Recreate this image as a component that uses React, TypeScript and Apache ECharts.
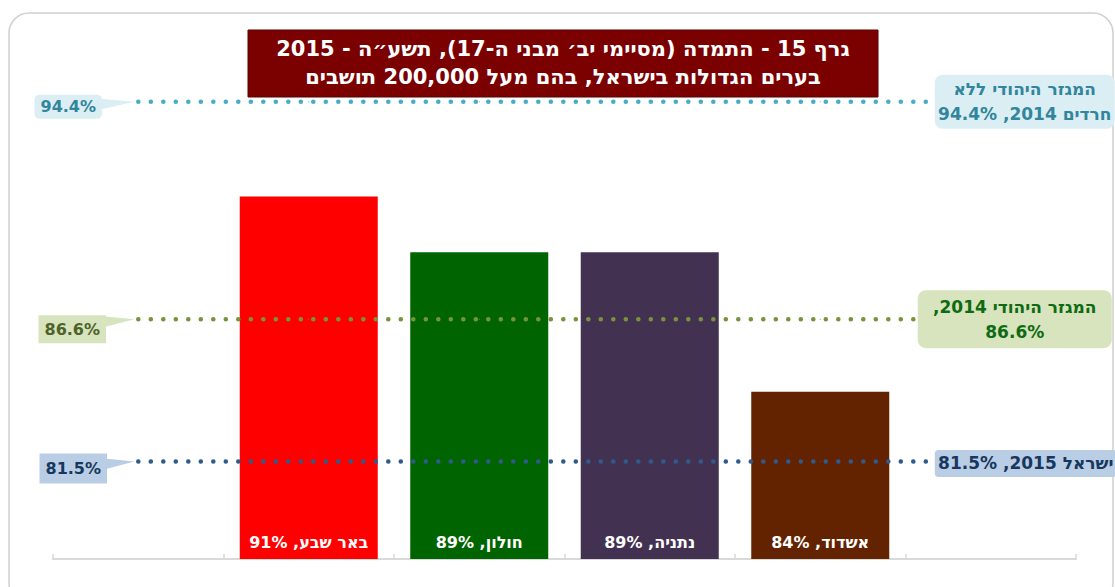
import React, { useEffect, useRef } from "react";
import * as echarts from "echarts";

// ---- data ----
const categories = ["", "באר שבע", "חולון", "נתניה", "אשדוד", ""];
const values: (number | null)[] = [null, 91, 89, 89, 84, null];
const barColors = ["#FF0000", "#FF0000", "#006400", "#433152", "#632300", "#632300"];

const titleLines = [
  "גרף 15 - התמדה (מסיימי יב׳ מבני ה-17), תשע״ה - 2015",
  "בערים הגדולות בישראל, בהם מעל 200,000 תושבים",
];

const refValues = [94.4, 86.6, 81.5];
const refRightLabels = [
  "המגזר היהודי ללא\nחרדים 2014, 94.4%",
  "המגזר היהודי 2014,\n86.6%",
  "ישראל 2015, 81.5%",
];
const refLineColors = ["#4BACC6", "#77933C", "#2E5A8C"];
const refBoxColors = ["#DAEEF3", "#D7E4BD", "#B9CDE5"];
const refLeftTextColors = ["#31859C", "#4F6228", "#17375E"];
const refRightTextColors = ["#31859C", "#0E6B12", "#17375E"];

const FONT = "DejaVu Sans";

export default function App() {
  const ref = useRef<HTMLDivElement>(null);

  useEffect(() => {
    if (!ref.current) return;
    const chart = echarts.init(ref.current, undefined, { renderer: "svg" });
    const last = categories.length - 1;

    const leftOffsets = [[-70, 5], [-66, 10], [-65, 7]];
    const leftPads = [[4, 6], [6, 6], [7, 6]];
    const leftRadius = [5, 0, 0];
    const rightOffsets = [[34, 0], [24, 0], [35, 2]];
    const rightWidths = [170, 184, 170];
    const rightPads = [[2, 5], [4, 5], [1, 6]];
    const rightRadius = [8, 8, 4];

    const lineSeries = refValues.map((v, k) => ({
      type: "line",
      z: 5,
      symbol: "circle",
      symbolSize: 1,
      showAllSymbol: true,
      itemStyle: { color: refLineColors[k] },
      lineStyle: { color: refLineColors[k], width: 4.5, type: [0.1, 12.4], cap: "round" },
      data: categories.map((_, i) => ({
        value: v,
        label:
          i === 0
            ? {
                show: true,
                position: "inside",
                offset: leftOffsets[k],
                formatter: `${v}%`,
                backgroundColor: refBoxColors[k],
                color: refLeftTextColors[k],
                fontFamily: FONT,
                fontWeight: "bold",
                fontSize: 16,
                padding: leftPads[k],
                borderRadius: leftRadius[k],
              }
            : i === last
            ? {
                show: true,
                position: "inside",
                offset: rightOffsets[k],
                formatter: refRightLabels[k],
                backgroundColor: refBoxColors[k],
                color: refRightTextColors[k],
                fontFamily: FONT,
                fontWeight: "bold",
                fontSize: 17,
                lineHeight: 25,
                width: rightWidths[k],
                align: "center",
                padding: rightPads[k],
                borderRadius: rightRadius[k],
              }
            : { show: false },
      })),
    }));

    const baseGraphic: any[] = [
      {
        id: "frame",
        type: "rect",
        z: 0,
        silent: true,
        shape: { x: 9, y: 13, width: 1104, height: 590, r: 20 },
        style: { fill: "none", stroke: "#d0d0d0", lineWidth: 1.5 },
      },
      {
        id: "titleBox",
        type: "rect",
        z: 10,
        shape: { x: 248, y: 30, width: 630, height: 67 },
        style: { fill: "#7B0000", stroke: "#5a0000", lineWidth: 1 },
      },
      {
        id: "titleText",
        type: "text",
        z: 11,
        x: 563,
        y: 63,
        style: {
          text: titleLines.join("\n"),
          fill: "#ffffff",
          font: `bold 21px "${FONT}"`,
          lineHeight: 28,
          align: "center",
          verticalAlign: "middle",
        },
      },
    ];

    chart.setOption({
      animation: false,
      grid: { left: 53, right: 39, top: 85, bottom: 28, containLabel: false },
      xAxis: {
        type: "category",
        data: categories,
        boundaryGap: true,
        axisLine: { lineStyle: { color: "#d9d9d9", width: 2 } },
        axisTick: { show: true, inside: true, length: 5, lineStyle: { color: "#d9d9d9", width: 1.5 } },
        axisLabel: { show: false },
      },
      yAxis: {
        type: "value",
        min: 78,
        max: 95,
        show: false,
        splitLine: { show: false },
      },
      series: [
        {
          type: "bar",
          z: 2,
          barWidth: 138,
          data: values.map((v, i) => ({ value: v, itemStyle: { color: barColors[i] } })),
          label: {
            show: true,
            position: "insideBottom",
            distance: 9,
            color: "#ffffff",
            fontFamily: FONT,
            fontWeight: "bold",
            fontSize: 16,
            formatter: (p: any) => `${categories[p.dataIndex]}, ${p.value}%`,
          },
        },
        ...lineSeries,
      ],
      graphic: baseGraphic,
    });

    // callout pointers for the left labels, computed from the axes
    const pointers = refValues.map((v, k) => {
      const p = chart.convertToPixel({ xAxisIndex: 0, yAxisIndex: 0 }, [0, v]) as number[];
      const bx = p[0] + leftOffsets[k][0] + 31;
      return {
        id: "ptr" + k,
        type: "polygon",
        z: 4,
        shape: {
          points: [
            [p[0] - 4, p[1]],
            [bx, p[1] - 3],
            [bx, p[1] + 8],
          ],
        },
        style: { fill: refBoxColors[k] },
      };
    });
    chart.setOption({ graphic: [...baseGraphic, ...pointers] });

    return () => chart.dispose();
  }, []);

  return (
    <>
      <style>{`#chart text{direction:rtl;unicode-bidi:embed}`}</style>
      <div
        id="chart"
        ref={ref}
        style={{ position: "absolute", left: 0, top: 0, width: 1115, height: 587 }}
      />
    </>
  );
}
